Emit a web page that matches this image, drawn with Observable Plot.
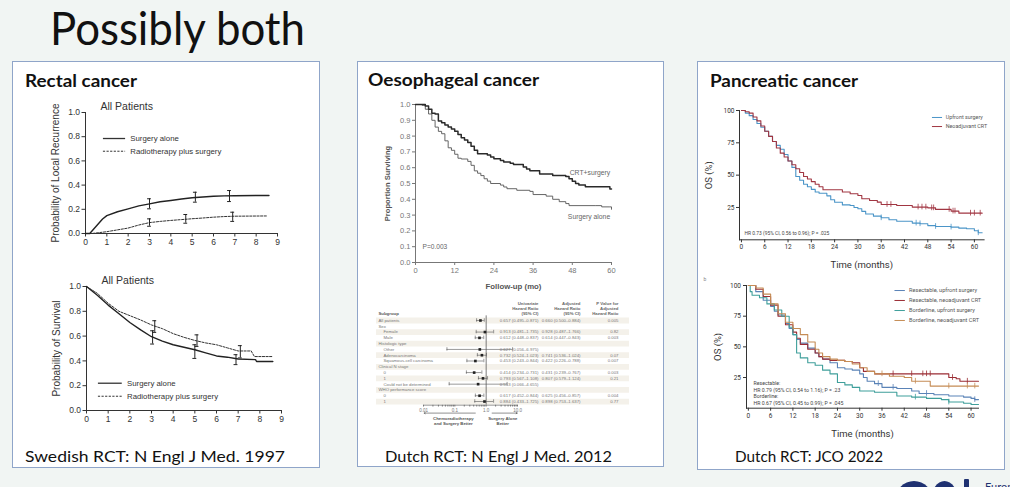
<!DOCTYPE html>
<html>
<head>
<meta charset="utf-8">
<script src="https://cdn.jsdelivr.net/npm/d3@7"></script>
<script src="https://cdn.jsdelivr.net/npm/@observablehq/plot@0.6"></script>
<style>
  html, body { margin: 0; padding: 0; background: #f1f5f3; }
  #slide { position: relative; width: 1010px; height: 487px; overflow: hidden; background: #f1f5f3; font-family: Lato, "Open Sans", sans-serif; }
  .panel { position: absolute; background: #fff; border: 1.5px solid #8fa5c9; box-sizing: border-box; }
  .txt { position: absolute; white-space: nowrap; line-height: 1; transform-origin: 0 0; }
  .chart { position: absolute; }
  .chart svg { overflow: visible; }
  .logo { position: absolute; background: #1f3171; }
</style>
</head>
<body>
<div id="slide"></div>
<script>
// ---------- Swedish Rectal Cancer Trial (years) ----------
const rectalTicksX = [0, 1, 2, 3, 4, 5, 6, 7, 8, 9];
const rectalTicksY = [0, 0.2, 0.4, 0.6, 0.8, 1.0];
const rectalSeries = ["Surgery alone", "Radiotherapy plus surgery"];

// cumulative probability of local recurrence
const recurSurgery = [[0,0],[0.2,0],[0.5,0.06],[0.8,0.12],[1,0.148],[1.5,0.18],[2,0.204],[2.5,0.228],[3,0.245],[3.5,0.262],[4,0.273],[4.5,0.285],[5,0.295],[5.5,0.302],[6,0.308],[6.5,0.311],[7,0.312],[8,0.314],[8.6,0.314]];
const recurRadio   = [[0,0],[0.3,0],[1,0.015],[1.5,0.03],[2,0.045],[2.5,0.07],[3,0.09],[3.5,0.1],[4,0.108],[4.5,0.115],[5,0.122],[5.5,0.128],[6,0.135],[6.5,0.14],[7,0.143],[8.5,0.145]];
const recurSurgeryCI = [{t: 3.0, lo: 0.204, hi: 0.287}, {t: 5.15, lo: 0.259, hi: 0.341}, {t: 6.75, lo: 0.264, hi: 0.355}];
const recurRadioCI   = [{t: 3.0, lo: 0.06, hi: 0.121}, {t: 4.7, lo: 0.085, hi: 0.157}, {t: 6.9, lo: 0.10, hi: 0.176}];

// probability of survival
const survSurgery = [[0,1],[0.5,0.93],[1,0.85],[1.5,0.78],[2,0.71],[2.5,0.65],[3,0.595],[3.5,0.56],[4,0.53],[4.5,0.51],[5,0.49],[5.5,0.465],[6,0.44],[6.5,0.43],[7,0.415],[7.8,0.41],[7.85,0.395],[8.6,0.395]];
const survRadio   = [[0,1],[0.5,0.945],[1,0.865],[1.5,0.8],[2,0.765],[2.5,0.73],[3,0.69],[3.5,0.66],[4,0.62],[4.5,0.59],[5,0.565],[5.5,0.545],[6,0.53],[6.5,0.505],[7,0.48],[7.6,0.48],[7.75,0.435],[8.6,0.435]];
const survSurgeryCI = [{t: 3.05, lo: 0.536, hi: 0.643}, {t: 5.0, lo: 0.42, hi: 0.53}, {t: 6.9, lo: 0.37, hi: 0.45}];
const survRadioCI   = [{t: 3.15, lo: 0.63, hi: 0.724}, {t: 5.1, lo: 0.517, hi: 0.61}, {t: 7.1, lo: 0.424, hi: 0.523}];

// ---------- CROSS trial, oesophageal cancer (months) ----------
const crossTicksX = [0, 12, 24, 36, 48, 60];
const crossTicksY = [0, 0.1, 0.2, 0.3, 0.4, 0.5, 0.6, 0.7, 0.8, 0.9, 1.0];
const crossCRT = [[0,1],[3,0.99],[4,0.97],[5,0.945],[6,0.94],[7,0.895],[8,0.885],[9,0.87],[10,0.857],[11,0.845],[12,0.83],[13,0.81],[14,0.79],[15,0.775],[16,0.76],[17,0.735],[18,0.71],[19,0.688],[22,0.68],[23,0.668],[24,0.657],[26,0.645],[27,0.636],[29,0.628],[30,0.62],[33,0.605],[34,0.592],[35,0.58],[38,0.56],[42,0.55],[46,0.545],[47,0.53],[48,0.515],[49,0.5],[50,0.49],[52,0.48],[59,0.48],[59.5,0.465],[60,0.465]];
const crossSurgery = [[0,1],[2,0.995],[3,0.97],[4,0.94],[5,0.9],[6,0.857],[7,0.83],[8,0.815],[9,0.77],[10,0.726],[11,0.71],[12,0.685],[13,0.66],[14,0.655],[16,0.64],[17,0.615],[18,0.58],[19,0.565],[20,0.55],[21,0.53],[22,0.515],[23,0.5],[26,0.49],[27,0.478],[28,0.467],[31,0.457],[35,0.45],[36,0.43],[40,0.42],[42,0.4],[44,0.385],[46,0.373],[47,0.36],[55,0.36],[57,0.352],[59.5,0.352],[60,0.337]];
const crossLabels = ["CRT+surgery", "Surgery alone"];
const crossP = "P=0.003";

// subgroup analysis (hazard ratios, log scale)
const forestTicks = [0.01, 0.1, 1, 10];
const forestTickLabels = ["0.01", "0.1", "1.0", "10.0"];
const forestSubgroups = ["All patients", "Sex", "Female", "Male", "Histologic type", "Other", "Adenocarcinoma", "Squamous-cell carcinoma", "Clinical N stage", "0", "1", "Could not be determined", "WHO performance score", "0", "1"];
const forestLevel = [0, 0, 1, 1, 0, 1, 1, 1, 0, 1, 1, 1, 0, 1, 1];
const forestHR = [0.657, null, 0.913, 0.612, null, 0.627, 0.732, 0.453, null, 0.414, 0.793, 0.553, null, 0.617, 0.884];
const forestLo = [0.495, null, 0.481, 0.448, null, 0.056, 0.524, 0.243, null, 0.234, 0.567, 0.066, null, 0.452, 0.433];
const forestHi = [0.871, null, 1.735, 0.837, null, 6.975, 1.023, 0.844, null, 0.731, 1.108, 4.655, null, 0.844, 1.725];
const forestUni = ["0.657 (0.495–0.871)", "", "0.913 (0.481–1.735)", "0.612 (0.448–0.837)", "", "0.627 (0.056–6.975)", "0.732 (0.524–1.023)", "0.453 (0.243–0.844)", "", "0.414 (0.234–0.731)", "0.793 (0.567–1.108)", "0.553 (0.066–4.655)", "", "0.617 (0.452–0.844)", "0.884 (0.433–1.725)"];
const forestAdj = ["0.660 (0.500–0.884)", "", "0.928 (0.487–1.766)", "0.614 (0.447–0.843)", "", "", "0.741 (0.536–1.024)", "0.422 (0.226–0.788)", "", "0.431 (0.239–0.767)", "0.807 (0.579–1.124)", "", "", "0.625 (0.456–0.857)", "0.898 (0.753–1.637)"];
const forestPval = ["0.005", "", "0.82", "0.003", "", "", "0.07", "0.007", "", "0.003", "0.21", "", "", "0.004", "0.77"];
const forestHeaders = [["Univariate", "Hazard Ratio", "(95% CI)"], ["Adjusted", "Hazard Ratio", "(95% CI)"], ["P Value for", "Adjusted", "Hazard Ratio"]];
const forestFavour = [["Chemoradiotherapy", "and Surgery Better"], ["Surgery Alone", "Better"]];

// ---------- PREOPANC trial, pancreatic cancer (months, OS %) ----------
const panTicksX = [0, 6, 12, 18, 24, 30, 36, 42, 48, 54, 60];
const panTicksY = [25, 50, 75, 100];
const panSeries = ["Upfront surgery", "Neoadjuvant CRT"];
const panUpfront = [[0,100],[1,98],[2,96],[3,93],[4,90],[5,87],[6,84],[7,80],[8,76],[9,73],[10,70],[11,66],[12,61],[13,56],[14,49],[15,46],[16,43],[17,41],[18,39],[19,37],[20,36],[22,34],[23,31],[24,29],[26,27],[28,26.5],[29,25],[30,24],[31,22],[32,20],[34,18.3],[36,17],[38,15.5],[40,14.4],[44,12.9],[46,12.4],[48,11],[50,10.3],[54,9.8],[56,9],[58,8.5],[60,7],[61,5.4],[62,5.4]];
const panNeo = [[0,100],[1,99],[2,98],[3,95],[4,92],[5,88],[6,84],[7,80],[8,76],[9,71],[10,67],[11,64],[12,61],[13,58],[14,55],[15,52],[16,49],[17,47],[18,45],[19,43],[20,41],[21,38.7],[25,38.7],[26,37],[28,35.6],[30,34.3],[31,31.7],[33,30.4],[35,29.1],[36,27.3],[40,26.5],[44,25.3],[48,24.7],[50,23.5],[54,22.2],[56,20.6],[62,20.6]];
const panUpfrontCensor = [36, 45, 46, 50, 54, 61];
const panNeoCensor = [37.5, 38.5, 45.5, 46.5, 47.5, 49, 49.5, 53.5, 54.5, 55, 59, 60, 61.5];
const panHR = "HR 0.73 (95% CI, 0.56 to 0.96); P = .025";

const subSeries = ["Resectable, upfront surgery", "Resectable, neoadjuvant CRT", "Borderline, upfront surgery", "Borderline, neoadjuvant CRT"];
const subResUp  = [[0,100],[2,95],[4,88],[6,83],[7,79],[8,76],[10,69],[11,65],[12,60],[13,56],[14,53],[16,49],[18,45],[19,42],[20,40],[22,37],[24,33],[26,32],[28,31],[30,28],[31,25],[32,22],[34,20],[36,17],[40,16],[44,14],[46,12],[50,11],[54,10],[58,9],[60,8],[61,7],[62,7]];
const subResNeo = [[0,100],[2,97],[4,91],[6,84],[8,75],[10,68],[12,62],[13,57],[14,52],[16,48],[18,45],[19,42],[20,40],[22,39],[26,38],[28,37],[30,33],[31,30],[34,28],[53,28],[54,25],[56,24],[57,22],[62,22]];
const subBorUp  = [[0,100],[0.5,95],[1,92],[3,90],[5,85],[7,80],[9,75],[11,66],[12,60],[13,45],[14,41],[16,37],[18,35],[20,31],[22,28],[24,21],[26,19],[28,17],[30,14],[34,13],[40,10],[44,9],[48,8],[52,7],[54,5],[58,4],[60,3],[62,3]];
const subBorNeo = [[0,100],[2,98],[4,93],[6,85],[8,77],[10,70],[12,65],[14,60],[16,54],[18,48],[19,45],[20,42],[22,40],[24,39],[26,38],[28,36],[30,33],[32,30],[34,28],[38,26],[42,25],[44,22],[48,22],[49,18],[62,18]];
const subCensor = [[35, 39, 48, 61], [39, 44, 47, 48, 49, 55, 59], [45, 54], [36, 45, 54, 59, 61]];
const subHR = ["Resectable:", "HR 0.79 (95% CI, 0.54 to 1.16); P = .23", "Borderline:", "HR 0.67 (95% CI, 0.45 to 0.99); P = .045"];

// ---------- slide text ----------
const slideTitle = "Possibly both";
const panelTitles = ["Rectal cancer", "Oesophageal cancer", "Pancreatic cancer"];
const panelSources = ["Swedish RCT: N Engl J Med. 1997", "Dutch RCT: N Engl J Med. 2012", "Dutch RCT: JCO 2022"];

// =====================================================================
const slide = document.getElementById("slide");
const pts = (arr) => arr.map(([t, v]) => ({t, v}));
const stepAt = (curve, t) => { let v = curve[0][1]; for (const [x, y] of curve) { if (x <= t) v = y; else break; } return v; };

function panel(l, t, r, b) {
  const d = document.createElement("div");
  d.className = "panel";
  Object.assign(d.style, {left: l + "px", top: t + "px", width: (r - l) + "px", height: (b - t) + "px"});
  slide.appendChild(d);
}

// place a line of text by its baseline, stretched to a given width
function label(text, x, baseline, size, width, weight = 400, color = "#111") {
  const el = document.createElement("div");
  el.className = "txt";
  Object.assign(el.style, {fontSize: size + "px", fontWeight: weight, color});
  el.textContent = text;
  const probe = document.createElement("span");
  Object.assign(probe.style, {display: "inline-block", width: "0px", height: "0px", verticalAlign: "baseline"});
  el.appendChild(probe);
  slide.appendChild(el);
  const base = probe.offsetTop;
  const w = el.getBoundingClientRect().width;
  el.style.left = x + "px";
  el.style.top = (baseline - base) + "px";
  if (width) el.style.transform = `scaleX(${width / w})`;
}

function mount(svg, left, top) {
  const d = document.createElement("div");
  d.className = "chart";
  d.style.left = left + "px";
  d.style.top = top + "px";
  d.appendChild(svg);
  slide.appendChild(d);
}

panel(12, 61, 320, 468);
panel(357, 61, 664, 467);
panel(697, 61, 1005, 470);

label(slideTitle, 50, 45, 46, 255, 400, "#111");
label(panelTitles[0], 25, 87, 16.5, 112, 700);
label(panelTitles[1], 368, 86, 16.5, 171, 700);
label(panelTitles[2], 710, 87, 16.5, 148, 700);
label(panelSources[0], 25, 462, 16, 260);
label(panelSources[1], 385, 462, 16, 227);
label(panelSources[2], 735, 462, 16, 148);

// vertical axis title, centred on the frame's left edge
const yTitle = (text, dx, size, fill, weight = 400) =>
  Plot.text([text], {frameAnchor: "left", rotate: -90, dx, textAnchor: "middle", fontSize: size, fill, fontWeight: weight});

// ---------- rectal: shared builder ----------
function rectalPlot({curveA, curveB, ciA, ciB, ylabel, height, marginTop, marginBottom, marginLeft, marginRight, width, titleDy, legendY, legendX}) {
  const cap = 0.09;
  const errs = (ci) => [
    Plot.ruleX(ci, {x: "t", y1: "lo", y2: "hi", stroke: "#222", strokeWidth: 1}),
    Plot.ruleY(ci, {x1: d => d.t - cap, x2: d => d.t + cap, y: "lo", stroke: "#222", strokeWidth: 1}),
    Plot.ruleY(ci, {x1: d => d.t - cap, x2: d => d.t + cap, y: "hi", stroke: "#222", strokeWidth: 1})
  ];
  return Plot.plot({
    width, height, marginTop, marginBottom, marginLeft, marginRight,
    style: {fontFamily: "'Liberation Sans', Arial, sans-serif", fontSize: "8.5px", color: "#333", background: "transparent", overflow: "visible"},
    x: {domain: [0, 9], ticks: rectalTicksX, tickFormat: d3.format("d"), tickSize: 3.5, tickPadding: 2, line: true, label: null},
    y: {domain: [0, 1], ticks: rectalTicksY, tickFormat: d3.format(".1f"), tickSize: 3.5, tickPadding: 2, line: true, label: null},
    marks: [
      Plot.line(pts(curveB), {x: "t", y: "v", stroke: "#333", strokeWidth: 1, strokeDasharray: "2.2,1.4"}),
      Plot.line(pts(curveA), {x: "t", y: "v", stroke: "#222", strokeWidth: 1.4}),
      ...errs(ciA), ...errs(ciB),
      yTitle(ylabel, -30, 10, "#333"),
      Plot.text(["All Patients"], {frameAnchor: "top-left", dx: 15, dy: titleDy, fontSize: 10.5, fill: "#333", textAnchor: "start"}),
      Plot.ruleY([legendY[0]], {x1: legendX[0], x2: legendX[1], stroke: "#333", strokeWidth: 1.3}),
      Plot.ruleY([legendY[1]], {x1: legendX[0], x2: legendX[1], stroke: "#333", strokeWidth: 1, strokeDasharray: "2.2,1.4"}),
      Plot.text(rectalSeries, {x: legendX[1] + 0.22, y: (d, i) => legendY[i], text: d => d, textAnchor: "start", fontSize: 7.8, fill: "#333"})
    ]
  });
}

mount(rectalPlot({
  curveA: recurSurgery, curveB: recurRadio, ciA: recurSurgeryCI, ciB: recurRadioCI,
  ylabel: "Probability of Local Recurrence",
  width: 290, height: 162, marginLeft: 65, marginRight: 33, marginTop: 20, marginBottom: 21,
  titleDy: -10, legendY: [0.785, 0.68], legendX: [0.84, 1.88]
}), 20, 92);

mount(rectalPlot({
  curveA: survSurgery, curveB: survRadio, ciA: survSurgeryCI, ciB: survRadioCI,
  ylabel: "Probability of Survival",
  width: 290, height: 165, marginLeft: 66, marginRight: 29, marginTop: 24, marginBottom: 17,
  titleDy: -10, legendY: [0.22, 0.115], legendX: [0.55, 1.65]
}), 20, 262);

// ---------- oesophageal: survival ----------
mount(Plot.plot({
  width: 258, height: 200, marginLeft: 53, marginRight: 9, marginTop: 9, marginBottom: 33,
  style: {fontFamily: "'Liberation Sans', Arial, sans-serif", fontSize: "7.5px", color: "#777", background: "transparent", overflow: "visible"},
  x: {domain: [0, 60], ticks: crossTicksX, tickSize: 3, tickPadding: 2, line: true, label: null},
  y: {domain: [0, 1], ticks: crossTicksY, tickFormat: d3.format(".1f"), tickSize: 3, tickPadding: 2, line: true, label: null},
  marks: [
    Plot.line(pts(crossSurgery), {x: "t", y: "v", curve: "step-after", stroke: "#555", strokeWidth: 0.9}),
    Plot.line(pts(crossCRT), {x: "t", y: "v", curve: "step-after", stroke: "#2a2a2a", strokeWidth: 1.5}),
    yTitle("Proportion Surviving", -28, 7.6, "#555", 600),
    Plot.text(["Follow-up (mo)"], {frameAnchor: "bottom", dy: 26, fontSize: 7.8, fontWeight: 600, fill: "#555"}),
    Plot.text(crossLabels, {x: 59.6, y: (d, i) => [0.565, 0.29][i], text: d => d, textAnchor: "end", fontSize: 6.8, fill: "#666"}),
    Plot.text([crossP], {frameAnchor: "bottom-left", dx: 7, dy: -14, textAnchor: "start", fontSize: 6.6, fill: "#666"})
  ]
}), 362, 95);

// ---------- oesophageal: subgroup forest plot ----------
const forestRows = forestSubgroups.map((name, i) => ({
  i, name, level: forestLevel[i], hr: forestHR[i], lo: forestLo[i], hi: forestHi[i],
  uni: forestUni[i], adj: forestAdj[i], p: forestPval[i]
}));
const rowH = 5.79;
const forestMinor = d3.range(-2, 1).flatMap(e => d3.range(1, 10).map(k => k * 10 ** e)).concat([10]);
const est = forestRows.filter(d => d.hr != null);
const fText = {fontSize: 4.3, fill: "#777", fontFamily: "'Liberation Sans', Arial, sans-serif"};
mount(Plot.plot({
  width: 270, height: 130, marginLeft: 61, marginRight: 115, marginTop: 0, marginBottom: 25.5,
  style: {fontFamily: "'Liberation Sans', Arial, sans-serif", fontSize: "4.5px", color: "#777", background: "transparent", overflow: "visible"},
  x: {type: "log", domain: [0.01, 10], ticks: forestMinor, tickFormat: d => { const k = forestTicks.findIndex(t => Math.abs(t - d) < 1e-9); return k >= 0 ? forestTickLabels[k] : ""; }, tickSize: 2, tickPadding: 1.5, line: true, label: null},
  y: {type: "linear", domain: [-20 / rowH, 14.6], reverse: true, axis: null},
  marks: [
    Plot.ruleY(forestRows.filter(d => d.i % 2 === 0), {y: "i", stroke: "#f4f1ea", strokeWidth: rowH, insetLeft: -47, insetRight: -112}),
    Plot.ruleX([1], {y1: -0.8, y2: 14.6, stroke: "#444", strokeWidth: 0.7}),
    Plot.ruleY(est, {x1: "lo", x2: "hi", y: "i", stroke: "#555", strokeWidth: 0.6}),
    Plot.ruleX(est, {x: "lo", y1: d => d.i - 0.3, y2: d => d.i + 0.3, stroke: "#555", strokeWidth: 0.6}),
    Plot.ruleX(est, {x: "hi", y1: d => d.i - 0.3, y2: d => d.i + 0.3, stroke: "#555", strokeWidth: 0.6}),
    Plot.dot(est, {x: "hr", y: "i", symbol: "square", r: 1.5, fill: "#222", stroke: null}),
    Plot.text(forestRows.filter(d => d.level === 0), {frameAnchor: "left", y: "i", text: "name", dx: -45, textAnchor: "start", ...fText}),
    Plot.text(forestRows.filter(d => d.level === 1), {frameAnchor: "left", y: "i", text: "name", dx: -40, textAnchor: "start", ...fText}),
    Plot.text(forestRows, {frameAnchor: "right", y: "i", text: "uni", dx: 21, ...fText}),
    Plot.text(forestRows, {frameAnchor: "right", y: "i", text: "adj", dx: 63, ...fText}),
    Plot.text(forestRows, {frameAnchor: "right", y: "i", text: "p", dx: 101, ...fText}),
    Plot.text(["Subgroup"], {frameAnchor: "left", y: -1.2, dx: -45, textAnchor: "start", ...fText, fontWeight: 700, fill: "#555"}),
    ...forestHeaders.map((lines, c) => Plot.text(lines, {frameAnchor: "right", y: (d, j) => [-2.94, -2.07, -1.2][j], dx: [21, 63, 101][c], text: d => d, ...fText, fontWeight: 700, fill: "#666"})),
    Plot.arrow([{x1: 0.45, x2: 0.0105}, {x1: 1.55, x2: 9.8}], {x1: "x1", x2: "x2", y1: 16, y2: 16, stroke: "#444", strokeWidth: 0.6, headLength: 3}),
    Plot.text(forestFavour[0], {x: 0.09, y: (d, j) => 17 + 0.75 * j, text: d => d, ...fText, fontWeight: 700, fill: "#555"}),
    Plot.text(forestFavour[1], {x: 3.4, y: (d, j) => 17 + 0.75 * j, text: d => d, ...fText, fontWeight: 700, fill: "#555"})
  ]
}), 362, 300);

// ---------- pancreatic: overall ----------
const panColors = ["#4b95c8", "#a13642"];
const censorMarks = (times, curve, color, half) => Plot.ruleX(times.map(t => ({t, v: stepAt(curve, t)})), {x: "t", y1: d => d.v - half, y2: d => d.v + half, stroke: color, strokeWidth: 0.8});
const panFont = "'Liberation Sans Narrow', Roboto, 'Liberation Sans', sans-serif";
mount(Plot.plot({
  width: 296, height: 180, marginLeft: 37, marginRight: 14.4, marginTop: 15, marginBottom: 35.7,
  style: {fontFamily: panFont, fontSize: "6.5px", color: "#333", background: "transparent", overflow: "visible"},
  x: {domain: [-0.5, 62.5], ticks: panTicksX, tickSize: 3, tickPadding: 2, line: true, label: null},
  y: {domain: [0, 100], ticks: panTicksY, tickSize: 3, tickPadding: 2, line: true, label: null},
  marks: [
    Plot.line(pts(panUpfront), {x: "t", y: "v", curve: "step-after", stroke: panColors[0], strokeWidth: 1.1}),
    Plot.line(pts(panNeo), {x: "t", y: "v", curve: "step-after", stroke: panColors[1], strokeWidth: 1.1}),
    censorMarks(panUpfrontCensor, panUpfront, panColors[0], 2.2),
    censorMarks(panNeoCensor, panNeo, panColors[1], 2.2),
    yTitle("OS (%)", -31, 9.5, "#333"),
    Plot.text(["Time (months)"], {frameAnchor: "bottom", dy: 28, fontSize: 9.5, fill: "#333"}),
    Plot.ruleY(panSeries, {x1: 49.2, x2: 51.8, y: (d, i) => [94.6, 87.6][i], stroke: (d, i) => panColors[i], strokeWidth: 1}),
    Plot.text(panSeries, {x: 52.6, y: (d, i) => [94.6, 87.6][i], text: d => d, textAnchor: "start", fontSize: 5.4, fill: "#555"}),
    Plot.text([panHR], {x: 0.8, y: 4.9, textAnchor: "start", fontSize: 4.9, fill: "#444"})
  ]
}), 702, 95);

// ---------- pancreatic: resectable vs borderline ----------
const subColors = ["#5a83b7", "#9b2d34", "#3f9f9b", "#c58c55"];
const subCurves = [subResUp, subResNeo, subBorUp, subBorNeo];
mount(Plot.plot({
  width: 296, height: 175, marginLeft: 44, marginRight: 20, marginTop: 13, marginBottom: 39.3,
  style: {fontFamily: panFont, fontSize: "6.5px", color: "#333", background: "transparent", overflow: "visible"},
  x: {domain: [-0.5, 62], ticks: panTicksX, tickSize: 3, tickPadding: 2.5, line: true, label: null},
  y: {domain: [0, 100], ticks: panTicksY, tickSize: 3, tickPadding: 2.5, line: true, label: null},
  marks: [
    ...subCurves.map((c, k) => Plot.line(pts(c), {x: "t", y: "v", curve: "step-after", stroke: subColors[k], strokeWidth: 1.1})),
    ...subCurves.map((c, k) => censorMarks(subCensor[k], c, subColors[k], 2.3)),
    yTitle("OS (%)", -29, 9.5, "#333"),
    Plot.text(["Time (months)"], {frameAnchor: "bottom", dy: 28.5, fontSize: 9.5, fill: "#333"}),
    Plot.ruleY(subSeries, {x1: 39.5, x2: 42.3, y: (d, i) => [95.9, 87.8, 79.6, 71.5][i], stroke: (d, i) => subColors[i], strokeWidth: 1}),
    Plot.text(subSeries, {x: 43.3, y: (d, i) => [95.9, 87.8, 79.6, 71.5][i], text: d => d, textAnchor: "start", fontSize: 5.6, fill: "#555"}),
    Plot.text(subHR, {x: 1.4, y: (d, i) => [20.1, 14.8, 9.5, 3.8][i], text: d => d, textAnchor: "start", fontSize: 5.2, fill: "#444"}),
    Plot.text(["b"], {frameAnchor: "top-left", dx: -43, dy: -8, fontSize: 5, fill: "#888"})
  ]
}), 702, 272);

// ---------- footer logo ----------
[[895, 481, 38, 20], [931, 481, 27, 20], [964, 479, 5, 12]].forEach(([l, t, w, h], k) => {
  const d = document.createElement("div");
  d.className = "logo";
  Object.assign(d.style, {left: l + "px", top: t + "px", width: w + "px", height: h + "px", borderRadius: k < 2 ? "50% 50% 0 0 / 100% 100% 0 0" : "1px"});
  slide.appendChild(d);
});
label("Europ", 985, 491, 11, null, 400, "#1f3171");
</script>
</body>
</html>
